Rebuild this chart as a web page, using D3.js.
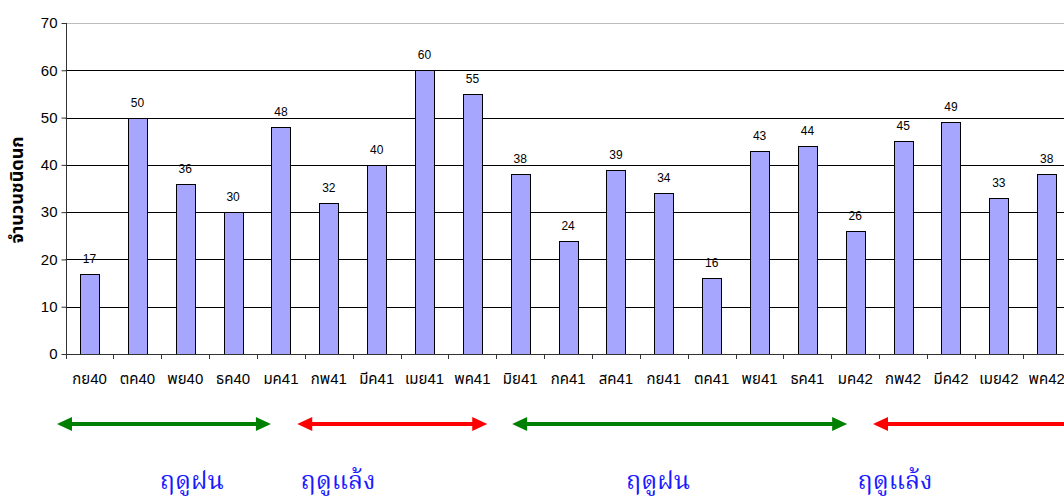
<!DOCTYPE html>
<html>
<head>
<meta charset="utf-8">
<script src="https://cdn.jsdelivr.net/npm/d3@7"></script>
<style>
	body { margin: 0; background: #fff; }
	svg { display: block; }
	text { font-family: Arial, "Liberation Sans", "Noto Sans Thai", sans-serif; }
</style>
</head>
<body>
<svg id="chart" width="1064" height="501"></svg>
<script>
var months = ['กย40', 'ตค40', 'พย40', 'ธค40', 'มค41', 'กพ41', 'มีค41', 'เมย41', 'พค41', 'มิย41',
	'กค41', 'สค41', 'กย41', 'ตค41', 'พย41', 'ธค41', 'มค42', 'กพ42', 'มีค42', 'เมย42', 'พค42'];
var species = [17, 50, 36, 30, 48, 32, 40, 60, 55, 38, 24, 39, 34, 16, 43, 44, 26, 45, 49, 33, 38];
var yTicks = [0, 10, 20, 30, 40, 50, 60, 70];

// seasons, in month-slot units (0 = left edge of first slot)
var seasonNames = ['ฤดูฝน', 'ฤดูแล้ง', 'ฤดูฝน', 'ฤดูแล้ง'];
var seasonStart = [-0.18, 4.84, 9.33, 16.87];
var seasonEnd = [4.29, 8.81, 16.33, 21.2];
var seasonLabelAt = [2.64, 5.69, 12.38, 17.33];
var seasonColor = ['#008000', '#ff0000', '#008000', '#ff0000'];

var svg = d3.select('#chart'),
	plotLeft = 65.6,
	step = 47.86,
	plotRight = plotLeft + step * months.length,
	plotTop = 23,
	plotBottom = 354;

var x = d3.scaleBand()
	.domain(months)
	.range([plotLeft, plotRight])
	.paddingInner(0.6)
	.paddingOuter(0.3);

var y = d3.scaleLinear()
	.domain([0, 70])
	.range([plotBottom, plotTop]);

var slot = d3.scaleLinear()
	.domain([0, months.length])
	.range([plotLeft, plotRight]);

// grid
svg.append('g')
	.selectAll('line')
	.data(yTicks.filter(d => d > 0))
	.enter().append('line')
	.attr('x1', plotLeft)
	.attr('x2', plotRight)
	.attr('y1', d => Math.round(y(d)) + 0.5)
	.attr('y2', d => Math.round(y(d)) + 0.5)
	.attr('stroke', d => d === 70 ? '#bdbdbd' : '#000')
	.attr('stroke-width', 1);

// y axis
var yAxis = svg.append('g')
	.attr('transform', 'translate(' + (Math.round(plotLeft) + 0.5) + ',0)')
	.call(d3.axisLeft(y).tickValues(yTicks).tickSize(5).tickPadding(4));
yAxis.select('.domain').attr('stroke', '#333').attr('d', 'M0,' + plotTop + 'V' + (plotBottom + 0.5));
yAxis.selectAll('.tick line').attr('stroke', '#333');
yAxis.selectAll('.tick text')
	.attr('fill', '#000')
	.style('font-size', '15px')
	.style('font-family', 'Arial, "Liberation Sans", sans-serif');

svg.append('text')
	.attr('transform', 'translate(23,190) rotate(-90)')
	.attr('text-anchor', 'middle')
	.style('font-size', '18px')
	.style('font-weight', 'bold')
	.attr('fill', '#000')
	.text('จำนวนชนิดนก');

// bars
svg.append('g')
	.selectAll('rect')
	.data(species)
	.enter().append('rect')
	.attr('x', (d, i) => Math.round(x(months[i])) + 0.5)
	.attr('y', d => Math.round(y(d)) + 0.5)
	.attr('width', Math.round(x.bandwidth()))
	.attr('height', d => Math.round(y(0)) - Math.round(y(d)))
	.attr('fill', '#a6a6ff')
	.attr('stroke', '#000')
	.attr('stroke-width', 1);

svg.append('g')
	.selectAll('text')
	.data(species)
	.enter().append('text')
	.attr('x', (d, i) => x(months[i]) + x.bandwidth() / 2)
	.attr('y', d => y(d) - 11)
	.attr('text-anchor', 'middle')
	.style('font-size', '12px')
	.attr('fill', '#000')
	.text(d => d);

// x axis
svg.append('line')
	.attr('x1', plotLeft)
	.attr('x2', plotRight)
	.attr('y1', plotBottom + 0.5)
	.attr('y2', plotBottom + 0.5)
	.attr('stroke', '#333');

svg.append('g')
	.selectAll('line')
	.data(d3.range(months.length + 1))
	.enter().append('line')
	.attr('x1', d => Math.round(slot(d)) + 0.5)
	.attr('x2', d => Math.round(slot(d)) + 0.5)
	.attr('y1', plotBottom)
	.attr('y2', plotBottom + 5)
	.attr('stroke', '#333');

svg.append('g')
	.selectAll('text')
	.data(months)
	.enter().append('text')
	.attr('x', d => x(d) + x.bandwidth() / 2)
	.attr('y', 384)
	.attr('text-anchor', 'middle')
	.style('font-size', '15px')
	.attr('fill', '#000')
	.text(d => d);

// season arrows
var arrowY = 424, head = 15, half = 7;
var seasons = svg.append('g')
	.selectAll('g')
	.data(seasonNames)
	.enter().append('g');

seasons.append('line')
	.attr('x1', (d, i) => slot(seasonStart[i]) + head - 2)
	.attr('x2', (d, i) => slot(seasonEnd[i]) - head + 2)
	.attr('y1', arrowY)
	.attr('y2', arrowY)
	.attr('stroke', (d, i) => seasonColor[i])
	.attr('stroke-width', 4);

seasons.append('path')
	.attr('d', (d, i) => {
		var a = slot(seasonStart[i]), b = slot(seasonEnd[i]);
		return 'M' + a + ',' + arrowY + 'L' + (a + head) + ',' + (arrowY - half) + 'L' + (a + head) + ',' + (arrowY + half) + 'Z' +
			'M' + b + ',' + arrowY + 'L' + (b - head) + ',' + (arrowY - half) + 'L' + (b - head) + ',' + (arrowY + half) + 'Z';
	})
	.attr('fill', (d, i) => seasonColor[i]);

seasons.append('text')
	.attr('x', (d, i) => slot(seasonLabelAt[i]))
	.attr('y', 489)
	.attr('text-anchor', 'middle')
	.style('font-family', '"Noto Serif Thai", "Angsana New", "DejaVu Serif", serif')
	.style('font-size', '25px')
	.attr('fill', '#1a1aff')
	.text(d => d);
</script>
</body>
</html>
